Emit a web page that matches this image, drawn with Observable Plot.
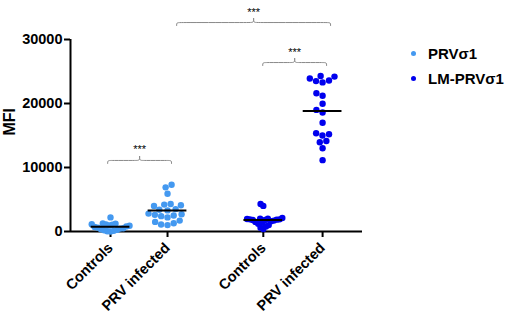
<!DOCTYPE html>
<html><head><meta charset="utf-8">
<script src="https://cdn.jsdelivr.net/npm/d3@7"></script>
<script src="https://cdn.jsdelivr.net/npm/@observablehq/plot@0.6"></script>
<style>
body{margin:0;background:#fff}
#wrap{position:relative;width:510px;height:314px;font-family:"Liberation Sans",Arial,sans-serif}
.lg{position:absolute;left:411px;font-weight:bold;font-size:15px;display:flex;align-items:center;height:20px;color:#000}
.lg .dot{width:5px;height:5px;border-radius:50%;display:inline-block;margin-right:12px}
</style></head><body><div id="wrap"></div>
<script>
// ---- data ----
const categories = ["Controls", "PRV infected", "Controls", "PRV infected"];
const groupOf = ["PRVσ1", "PRVσ1", "LM-PRVσ1", "LM-PRVσ1"];
const seriesNames = ["PRVσ1", "LM-PRVσ1"];
const seriesColors = ["#4499f0", "#0000ee"];
const yTicks = [0, 10000, 20000, 30000];

const prvControls = [2200, 1250, 1200, 1150, 1100, 1050, 950, 900, 800, 700, 600, 500, 450, 350, 250, 200, 100, 50, 0];
const prvInfected = [7300, 6900, 5900, 4300, 4200, 4100, 4000, 3500, 3400, 3300, 2800, 2700, 2600, 2500, 2400, 2200, 1700, 1500, 1300, 1100, 1000];
const lmControls = [4300, 4000, 2100, 2000, 2000, 1950, 1900, 1900, 1850, 1800, 1800, 1700, 1600, 1500, 1400, 1200, 1000, 800, 600, 400];
const lmInfected = [24300, 24200, 23900, 23600, 23500, 23300, 21600, 21200, 19950, 19000, 18600, 17000, 15350, 15200, 15000, 14150, 13950, 13000, 11150];
const seriesValues = [prvControls, prvInfected, lmControls, lmInfected];

// significance annotations (ends in category units, level in MFI)
const sigLabels = ["***", "***", "***"];
const sigFrom = [-0.05, 2.67, 1.16];
const sigTo = [1.07, 3.79, 3.86];
const sigLevel = [11100, 26400, 32650];

// ---- layout ----
const W = 510, H = 314, mL = 70, mR = 148, mT = 39, mB = 83;
const slots = [0, 1, 2.68, 3.72];
const xDomain = [-0.702, 4.42];
const xS = d3.scaleLinear(xDomain, [mL, W - mR]);
const yS = d3.scaleLinear([0, 30000], [H - mB, mT]);
const R = 3.2, maxHalf = 19;

// beeswarm offsets (pixel collision, then squeezed to max half width)
function swarm(values) {
  const pts = values.map(v => ({v, py: yS(v), ox: 0})).sort((a, b) => a.v - b.v);
  const d = 2 * R + 0.3;
  const placed = [];
  for (const p of pts) {
    const near = placed.filter(q => Math.abs(q.py - p.py) < d);
    const cands = [0];
    for (const q of near) {
      const dx = Math.sqrt(d * d - (q.py - p.py) ** 2);
      cands.push(q.ox - dx, q.ox + dx);
    }
    cands.sort((a, b) => Math.abs(a) - Math.abs(b));
    for (const c of cands) {
      if (near.every(q => (q.ox - c) ** 2 + (q.py - p.py) ** 2 >= d * d - 1e-6)) { p.ox = c; break; }
    }
    placed.push(p);
  }
  const m = d3.max(pts, p => Math.abs(p.ox));
  const k = m > maxHalf ? maxHalf / m : 1;
  pts.forEach(p => p.ox *= k);
  return pts;
}

const dots = [];
seriesValues.forEach((vals, i) => {
  const cx = xS(slots[i]);
  swarm(vals).forEach(p => dots.push({x: xS.invert(cx + p.ox), y: p.v, g: groupOf[i]}));
});

const means = seriesValues.map((vals, i) => ({x1: slots[i] - 0.34, x2: slots[i] + 0.34, y: d3.mean(vals)}));

// bracket paths
const pxX = 1 / (xS(1) - xS(0)), pxY = 30000 / (yS(0) - yS(30000));
const brLines = [];
const stars = [];
sigLabels.forEach((lab, i) => {
  const a = sigFrom[i], b = sigTo[i], Y = sigLevel[i], c = (a + b) / 2;
  const h = 3 * pxY, hc = 4 * pxY, e = 3 * pxX;
  const left = [[a, Y - h], [a, Y], [a + e, Y], [c - e, Y], [c, Y], [c, Y + hc]];
  const right = [[c, Y + hc], [c, Y], [c + e, Y], [b - e, Y], [b, Y], [b, Y - h]];
  left.forEach(([x, y]) => brLines.push({x, y, z: i + "L"}));
  right.forEach(([x, y]) => brLines.push({x, y, z: i + "R"}));
  stars.push({x: c, y: Y + hc, t: lab});
});

const plot = Plot.plot({
  width: W, height: H,
  marginLeft: mL, marginRight: mR, marginTop: mT, marginBottom: mB,
  x: {domain: xDomain},
  y: {domain: [0, 30000]},
  color: {domain: seriesNames, range: seriesColors},
  style: {fontFamily: "'Liberation Sans', Arial, sans-serif", fontWeight: "bold", fontSize: "14px", color: "#000", background: "#fff", overflow: "visible"},
  marks: [
    Plot.ruleX([xDomain[0]], {y1: 0, y2: 30000, strokeWidth: 2, stroke: "#000"}),
    Plot.ruleY([0], {strokeWidth: 2, stroke: "#000"}),
    Plot.axisY({ticks: yTicks, tickSize: 6, tickPadding: 2, strokeWidth: 2, tickFormat: d3.format("d"), label: null, fontSize: 14.5}),
    Plot.axisX({ticks: slots, tickSize: 6, tickPadding: 8, strokeWidth: 2, tickRotate: -45, label: null, fontSize: 14.5,
      tickFormat: d => categories[slots.indexOf(d)]}),
    Plot.text(["MFI"], {frameAnchor: "left", dx: -61, rotate: -90, fontSize: 16, fontWeight: "bold"}),
    Plot.dot(dots, {x: "x", y: "y", fill: "g", r: R, stroke: null}),
    Plot.ruleY(means, {x1: "x1", x2: "x2", y: "y", stroke: "#000", strokeWidth: 2}),
    Plot.line(brLines, {x: "x", y: "y", z: "z", curve: "basis", stroke: "#8a8a8a", strokeWidth: 1}),
    Plot.text(stars, {x: "x", y: "y", text: "t", lineAnchor: "bottom", dy: -3, fontSize: 11, fontWeight: "normal", fill: "#000"})
  ]
});
const wrap = document.getElementById("wrap");
wrap.appendChild(plot);
seriesNames.forEach((n, i) => {
  const d = document.createElement("div");
  d.className = "lg";
  d.style.top = (43 + i * 25.6) + "px";
  d.innerHTML = `<span class="dot" style="background:${seriesColors[i]}"></span>${n}`;
  wrap.appendChild(d);
});
</script></body></html>
